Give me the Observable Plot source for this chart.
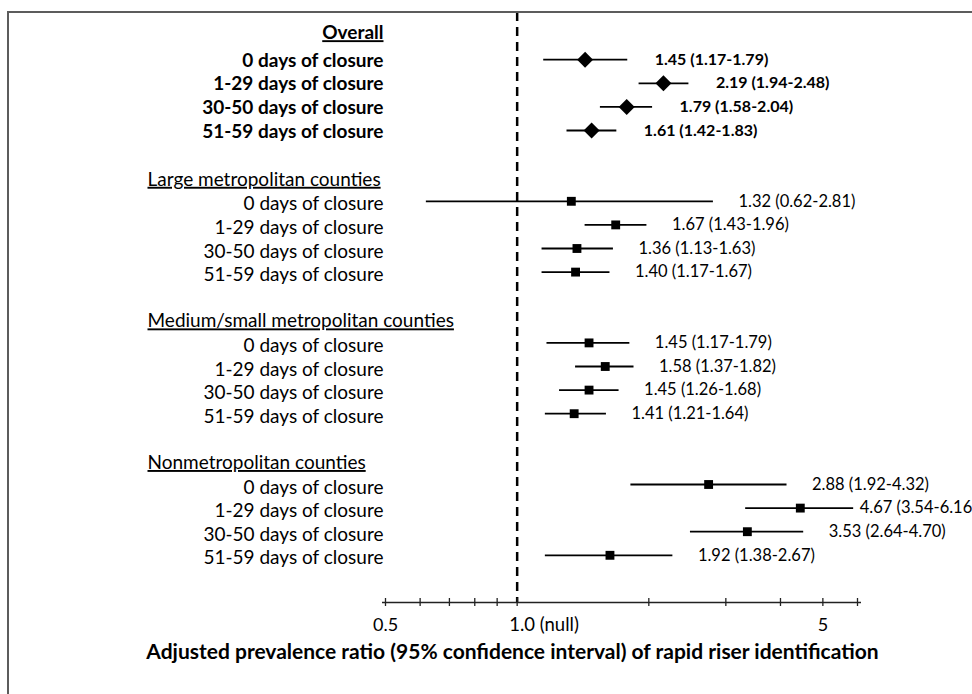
<!DOCTYPE html>
<html><head><meta charset="utf-8">
<script src="https://cdn.jsdelivr.net/npm/d3@7"></script>
<script src="https://cdn.jsdelivr.net/npm/@observablehq/plot@0.6"></script>
<style>
html,body{margin:0;padding:0;background:#fff;}
#wrap{position:relative;width:972px;height:694px;overflow:hidden;}
#wrap svg{position:absolute;left:0;top:0;}
#frame{position:absolute;left:7px;top:11px;width:2000px;height:2000px;border-top:2px solid #5c5c5c;border-left:2px solid #5c5c5c;pointer-events:none;}
</style></head><body><div id="wrap"></div>
<script>
const groups = ["Overall", "Large metropolitan counties", "Medium/small metropolitan counties", "Nonmetropolitan counties"];
const closure = ["0 days of closure", "1-29 days of closure", "30-50 days of closure", "51-59 days of closure"];
// plotted point estimates and CI ends, as drawn in the picture (group by group)
const est = [1.43, 2.16, 1.78, 1.48,  1.33, 1.68, 1.37, 1.36,  1.46, 1.59, 1.46, 1.35,  2.74, 4.44, 3.36, 1.63];
const lo  = [1.15, 1.90, 1.55, 1.30,  0.62, 1.43, 1.14, 1.14,  1.17, 1.36, 1.25, 1.16,  1.82, 3.33, 2.49, 1.16];
const hi  = [1.79, 2.47, 2.04, 1.69,  2.81, 1.98, 1.66, 1.63,  1.81, 1.85, 1.71, 1.60,  4.14, 5.88, 4.52, 2.27];
const valueLabels = [
  "1.45 (1.17-1.79)", "2.19 (1.94-2.48)", "1.79 (1.58-2.04)", "1.61 (1.42-1.83)",
  "1.32 (0.62-2.81)", "1.67 (1.43-1.96)", "1.36 (1.13-1.63)", "1.40 (1.17-1.67)",
  "1.45 (1.17-1.79)", "1.58 (1.37-1.82)", "1.45 (1.26-1.68)", "1.41 (1.21-1.64)",
  "2.88 (1.92-4.32)", "4.67 (3.54-6.16)", "3.53 (2.64-4.70)", "1.92 (1.38-2.67)"
];
const xTicks = [0.5, 0.6, 0.7, 0.8, 0.9, 1, 2, 3, 4, 5, 6];
const tickLabelValues = [0.5, 5];
const tickLabels = ["0.5", "5"];
const nullValue = 1;
const nullLabel = "1.0 (null)";
const axisTitle = "Adjusted prevalence ratio (95% confidence interval) of rapid riser identification";

const rows = [];
groups.forEach((g, gi) => closure.forEach((c, ri) => {
  const k = gi * 4 + ri;
  rows.push({gi, slot: gi * 6 + 1 + ri, label: c, est: est[k], lo: lo[k], hi: hi[k], text: valueLabels[k]});
}));
const heads = groups.map((g, gi) => ({gi, slot: gi * 6, label: g}));
const AXIS = 24;
const slotPx = 590 / 25;
const tickHalf = 4 / slotPx;
const F = "Lato, 'Open Sans', sans-serif";
const nearEdge = d => d.hi > 5; // labels of bars reaching the axis end sit tight against them

const chart = Plot.plot({
  width: 972, height: 694,
  marginLeft: 385, marginRight: 115, marginTop: 12, marginBottom: 92,
  x: {type: "log", domain: [0.5, 6], axis: null},
  y: {type: "linear", domain: [-1, AXIS], reverse: true, axis: null},
  style: {fontFamily: F, color: "black", background: "transparent"},
  marks: [
    Plot.ruleX([nullValue], {x: d => d, y1: -1, y2: AXIS, stroke: "black", strokeWidth: 2.5, strokeDasharray: "9,6"}),
    Plot.ruleY([AXIS], {y: d => d, x1: 0.5, x2: 6, stroke: "#222", strokeWidth: 1.3, insetLeft: -3, insetRight: -4}),
    Plot.ruleX(xTicks, {x: d => d, y1: AXIS - tickHalf, y2: AXIS + tickHalf, stroke: "#222", strokeWidth: 1.3}),
    Plot.ruleY(rows, {y: "slot", x1: "lo", x2: "hi", stroke: "black", strokeWidth: 1.8}),
    Plot.dot(rows.filter(d => d.gi === 0), {x: "est", y: "slot", symbol: "diamond2", r: 7.2, fill: "black", stroke: null}),
    Plot.dot(rows.filter(d => d.gi > 0), {x: "est", y: "slot", symbol: "square", r: 5, fill: "black", stroke: null}),
    Plot.text(rows.filter(d => d.gi === 0), {x: "hi", y: "slot", text: "text", textAnchor: "start", dx: 27, fontSize: 16, fontWeight: "bold", fill: "black"}),
    Plot.text(rows.filter(d => d.gi > 0 && !nearEdge(d)), {x: "hi", y: "slot", text: "text", textAnchor: "start", dx: 25, fontSize: 16.5, fill: "black"}),
    Plot.text(rows.filter(d => d.gi > 0 && nearEdge(d)), {x: "hi", y: "slot", text: "text", textAnchor: "start", dx: 6, fontSize: 16.5, fill: "black"}),
    Plot.text(rows.filter(d => d.gi === 0), {y: "slot", text: "label", frameAnchor: "left", textAnchor: "end", dx: -2, dy: 1, fontSize: 19, fontWeight: "bold", fill: "black"}),
    Plot.text(rows.filter(d => d.gi > 0), {y: "slot", text: "label", frameAnchor: "left", textAnchor: "end", dx: -2, dy: 3, fontSize: 19, fill: "black"}),
    Plot.text(heads.filter(d => d.gi === 0), {y: "slot", text: "label", frameAnchor: "left", textAnchor: "end", dx: -2, dy: -3, fontSize: 19, fontWeight: "bold", fill: "black"}),
    Plot.text(heads.filter(d => d.gi > 0), {y: "slot", text: "label", frameAnchor: "left", textAnchor: "start", dx: -238, dy: 2, fontSize: 19, fill: "black"}),
    Plot.text(tickLabelValues, {x: d => d, y: () => AXIS, text: (d, i) => tickLabels[i], dy: 23, fontSize: 18, fill: "black"}),
    Plot.text([nullValue], {x: d => d, y: () => AXIS, text: () => nullLabel, textAnchor: "start", dx: -8, dy: 23, fontSize: 18.5, fill: "black"}),
    Plot.text([axisTitle], {frameAnchor: "bottom", lineAnchor: "middle", text: d => d, dx: -109, dy: 50, fontSize: 21, fontWeight: "bold", fill: "black"})
  ]
});
d3.select(chart).selectAll("text").filter(function() { return groups.includes(this.textContent); })
  .style("text-decoration", "underline");
const wrap = document.getElementById("wrap");
wrap.appendChild(chart);
const fr = document.createElement("div"); fr.id = "frame"; wrap.appendChild(fr);
</script></body></html>
